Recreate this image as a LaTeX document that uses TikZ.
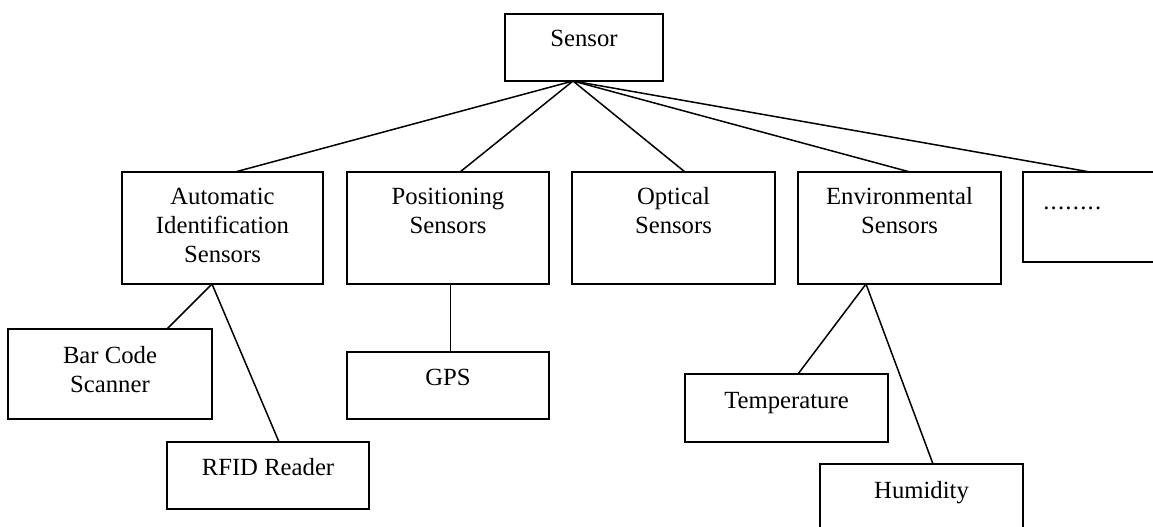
\documentclass[tikz,border=0pt]{standalone}
\usepackage{fontspec}
\setmainfont{Liberation Serif}
\usetikzlibrary{calc}
\begin{document}
\begin{tikzpicture}[x=1pt,y=-1pt,line width=1.5pt,
  box/.style={draw,rectangle,inner sep=0pt,outer sep=0pt},
  txt/.style={anchor=base,align=center,inner sep=0pt,font=\fontsize{24.7}{29}\selectfont},
  link/.style={draw,line width=1.5pt}]
\clip (0,0) rectangle (1153,527);
\fill[white] (0,0) rectangle (1153,527);
% boxes
\node[box,minimum width=158,minimum height=67] (sensor) at (584,47.5) {};
\node[box,minimum width=201,minimum height=112] (auto) at (222.5,228) {};
\node[box,minimum width=202,minimum height=112] (pos) at (448,228) {};
\node[box,minimum width=203,minimum height=112] (opt) at (673.5,228) {};
\node[box,minimum width=203,minimum height=112] (env) at (899.5,228) {};
\node[box,minimum width=203,minimum height=90] (more) at (1124.5,217) {};
\node[box,minimum width=204,minimum height=90] (bar) at (110,374) {};
\node[box,minimum width=202,minimum height=67] (rfid) at (268,475.5) {};
\node[box,minimum width=202,minimum height=67] (gps) at (448,385.5) {};
\node[box,minimum width=203,minimum height=68] (temp) at (786.5,408) {};
\node[box,minimum width=203,minimum height=67] (hum) at (921.5,497.5) {};
% texts (base anchor = baseline of the last line)
\node[txt] (sensorT) at (584,47) {Sensor};
\node[txt] (autoT) at (222.5,262) {Automatic\\Identification\\Sensors};
\node[txt] (posT) at (448,233) {Positioning\\Sensors};
\node[txt] (optT) at (673.5,233) {Optical\\Sensors};
\node[txt] (envT) at (899.5,233) {Environmental\\Sensors};
\node[txt,anchor=base west] (moreT) at (1042.5,209) {\addfontfeature{LetterSpace=5}........};
\node[txt] (barT) at (110,392) {Bar Code\\Scanner};
\node[txt] (rfidT) at (268,475) {RFID Reader};
\node[txt] (gpsT) at (448,385) {GPS};
\node[txt] (tempT) at (786.5,408) {Temperature};
\node[txt] (humT) at (921.5,498) {Humidity};
% connectors
\coordinate (apex) at ($(sensor.south)+(-11,0)$);
\draw[link] (apex) -- ($(auto.north)+(12.5,0)$);
\draw[link] (apex) -- ($(pos.north)+(12,0)$);
\draw[link] (apex) -- ($(opt.north)+(11.5,0)$);
\draw[link] (apex) -- ($(env.north)+(10.5,0)$);
\draw[link] (apex) -- ($(more.north)+(-34.5,0)$);
\coordinate (autoB) at ($(auto.south)+(-10.5,0)$);
\draw[link] (autoB) -- ($(bar.north)+(57,0)$);
\draw[link] (autoB) -- ($(rfid.north)+(11,0)$);
\draw[link] ($(pos.south)+(2.5,0)$) -- ($(gps.north)+(2.5,0)$);
\coordinate (envB) at ($(env.south)+(-33.5,0)$);
\draw[link] (envB) -- ($(temp.north)+(11.5,0)$);
\draw[link] (envB) -- ($(hum.north)+(11.5,0)$);
\end{tikzpicture}
\end{document}
